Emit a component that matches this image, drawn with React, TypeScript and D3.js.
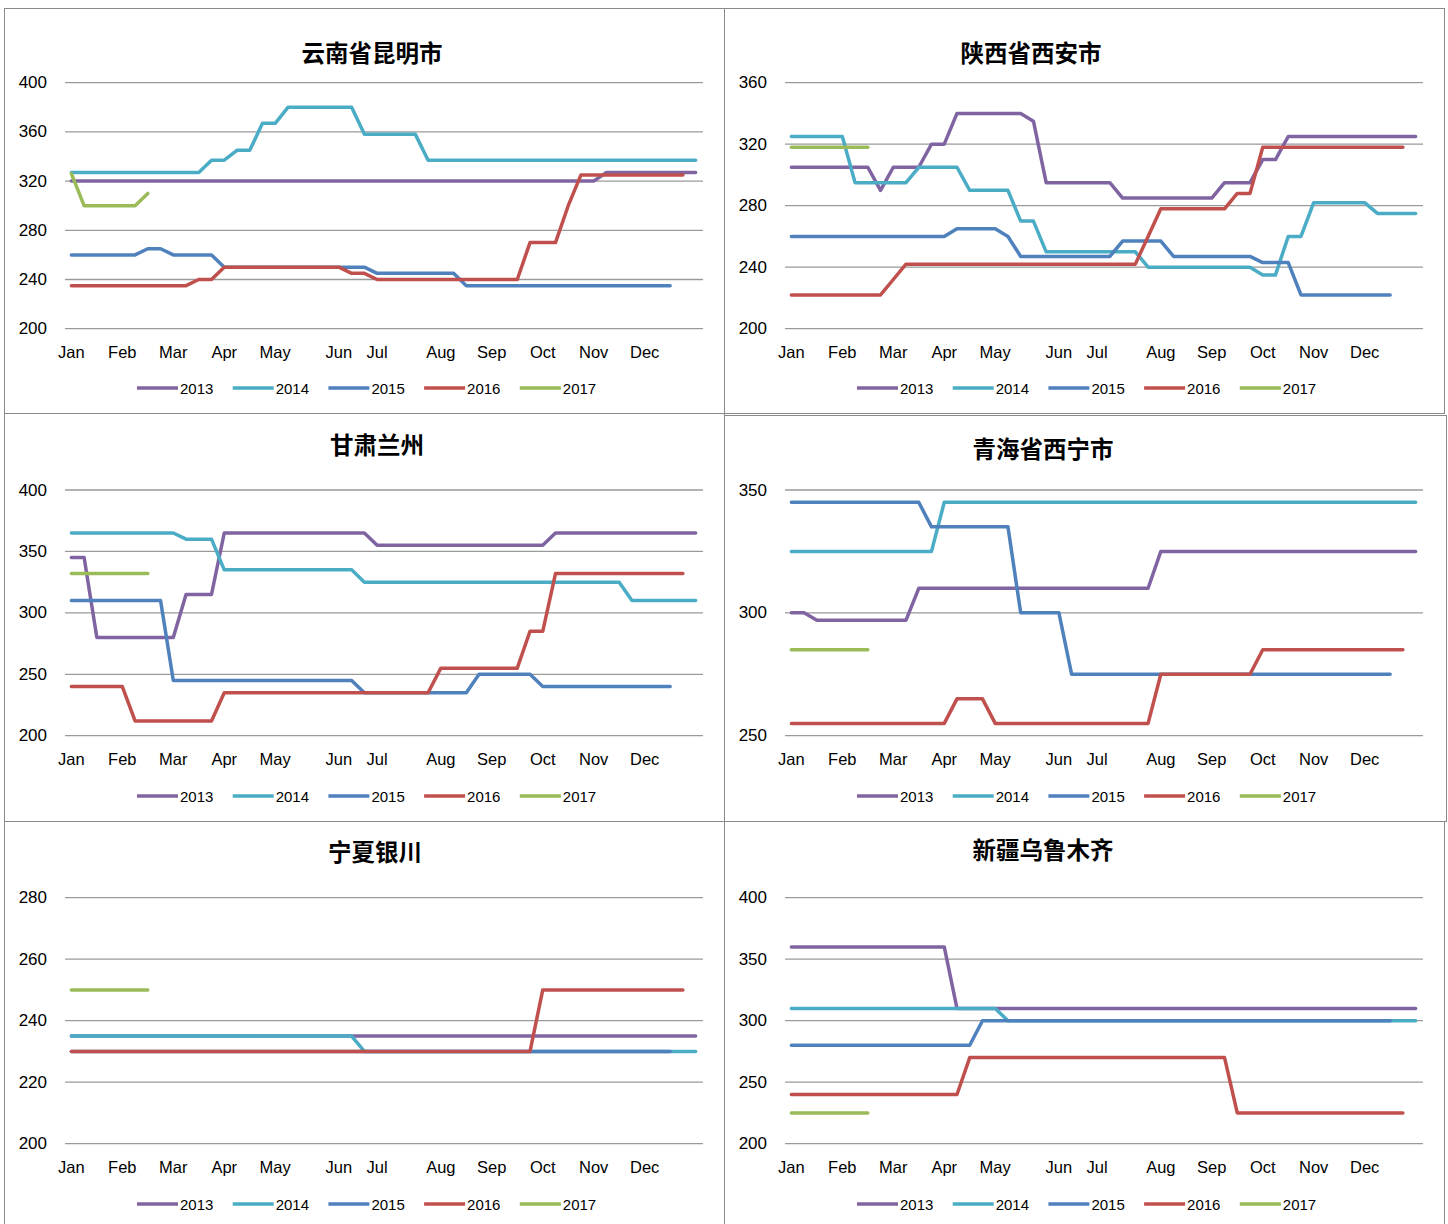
import React from "react";
import * as d3 from "d3";

const years = ["2013", "2014", "2015", "2016", "2017"];
const seriesColors = ["#8064A2", "#4BACC6", "#4F81BD", "#C0504D", "#9BBB59"];
const monthLabels = ["Jan", "Feb", "Mar", "Apr", "May", "Jun", "Jul", "Aug", "Sep", "Oct", "Nov", "Dec"];
const monthIndex = [0, 4, 8, 12, 16, 21, 24, 29, 33, 37, 41, 45];
const nCategories = 50;

// 云南省昆明市
const km2013 = [
  320, 320, 320, 320, 320, 320, 320, 320, 320, 320,
  320, 320, 320, 320, 320, 320, 320, 320, 320, 320,
  320, 320, 320, 320, 320, 320, 320, 320, 320, 320,
  320, 320, 320, 320, 320, 320, 320, 320, 320, 320,
  320, 320, 327, 327, 327, 327, 327, 327, 327, 327];
const km2014 = [
  327, 327, 327, 327, 327, 327, 327, 327, 327, 327,
  327, 337, 337, 345, 345, 367, 367, 380, 380, 380,
  380, 380, 380, 358, 358, 358, 358, 358, 337, 337,
  337, 337, 337, 337, 337, 337, 337, 337, 337, 337,
  337, 337, 337, 337, 337, 337, 337, 337, 337, 337];
const km2015 = [
  260, 260, 260, 260, 260, 260, 265, 265, 260, 260,
  260, 260, 250, 250, 250, 250, 250, 250, 250, 250,
  250, 250, 250, 250, 245, 245, 245, 245, 245, 245,
  245, 235, 235, 235, 235, 235, 235, 235, 235, 235,
  235, 235, 235, 235, 235, 235, 235, 235];
const km2016 = [
  235, 235, 235, 235, 235, 235, 235, 235, 235, 235,
  240, 240, 250, 250, 250, 250, 250, 250, 250, 250,
  250, 250, 245, 245, 240, 240, 240, 240, 240, 240,
  240, 240, 240, 240, 240, 240, 270, 270, 270, 300,
  325, 325, 325, 325, 325, 325, 325, 325, 325];
const km2017 = [326, 300, 300, 300, 300, 300, 310];
const kmTicks = [200, 240, 280, 320, 360, 400];

// 陕西省西安市
const xa2013 = [
  305, 305, 305, 305, 305, 305, 305, 290, 305, 305,
  305, 320, 320, 340, 340, 340, 340, 340, 340, 335,
  295, 295, 295, 295, 295, 295, 285, 285, 285, 285,
  285, 285, 285, 285, 295, 295, 295, 310, 310, 325,
  325, 325, 325, 325, 325, 325, 325, 325, 325, 325];
const xa2014 = [
  325, 325, 325, 325, 325, 295, 295, 295, 295, 295,
  305, 305, 305, 305, 290, 290, 290, 290, 270, 270,
  250, 250, 250, 250, 250, 250, 250, 250, 240, 240,
  240, 240, 240, 240, 240, 240, 240, 235, 235, 260,
  260, 282, 282, 282, 282, 282, 275, 275, 275, 275];
const xa2015 = [
  260, 260, 260, 260, 260, 260, 260, 260, 260, 260,
  260, 260, 260, 265, 265, 265, 265, 260, 247, 247,
  247, 247, 247, 247, 247, 247, 257, 257, 257, 257,
  247, 247, 247, 247, 247, 247, 247, 243, 243, 243,
  222, 222, 222, 222, 222, 222, 222, 222];
const xa2016 = [
  222, 222, 222, 222, 222, 222, 222, 222, 232, 242,
  242, 242, 242, 242, 242, 242, 242, 242, 242, 242,
  242, 242, 242, 242, 242, 242, 242, 242, 260, 278,
  278, 278, 278, 278, 278, 288, 288, 318, 318, 318,
  318, 318, 318, 318, 318, 318, 318, 318, 318];
const xa2017 = [318, 318, 318, 318, 318, 318, 318];
const xaTicks = [200, 240, 280, 320, 360];

// 甘肃兰州
const lz2013 = [
  345, 345, 280, 280, 280, 280, 280, 280, 280, 315,
  315, 315, 365, 365, 365, 365, 365, 365, 365, 365,
  365, 365, 365, 365, 355, 355, 355, 355, 355, 355,
  355, 355, 355, 355, 355, 355, 355, 355, 365, 365,
  365, 365, 365, 365, 365, 365, 365, 365, 365, 365];
const lz2014 = [
  365, 365, 365, 365, 365, 365, 365, 365, 365, 360,
  360, 360, 335, 335, 335, 335, 335, 335, 335, 335,
  335, 335, 335, 325, 325, 325, 325, 325, 325, 325,
  325, 325, 325, 325, 325, 325, 325, 325, 325, 325,
  325, 325, 325, 325, 310, 310, 310, 310, 310, 310];
const lz2015 = [
  310, 310, 310, 310, 310, 310, 310, 310, 245, 245,
  245, 245, 245, 245, 245, 245, 245, 245, 245, 245,
  245, 245, 245, 235, 235, 235, 235, 235, 235, 235,
  235, 235, 250, 250, 250, 250, 250, 240, 240, 240,
  240, 240, 240, 240, 240, 240, 240, 240];
const lz2016 = [
  240, 240, 240, 240, 240, 212, 212, 212, 212, 212,
  212, 212, 235, 235, 235, 235, 235, 235, 235, 235,
  235, 235, 235, 235, 235, 235, 235, 235, 235, 255,
  255, 255, 255, 255, 255, 255, 285, 285, 332, 332,
  332, 332, 332, 332, 332, 332, 332, 332, 332];
const lz2017 = [332, 332, 332, 332, 332, 332, 332];
const lzTicks = [200, 250, 300, 350, 400];

// 青海省西宁市
const xn2013 = [
  300, 300, 297, 297, 297, 297, 297, 297, 297, 297,
  310, 310, 310, 310, 310, 310, 310, 310, 310, 310,
  310, 310, 310, 310, 310, 310, 310, 310, 310, 325,
  325, 325, 325, 325, 325, 325, 325, 325, 325, 325,
  325, 325, 325, 325, 325, 325, 325, 325, 325, 325];
const xn2014 = [
  325, 325, 325, 325, 325, 325, 325, 325, 325, 325,
  325, 325, 345, 345, 345, 345, 345, 345, 345, 345,
  345, 345, 345, 345, 345, 345, 345, 345, 345, 345,
  345, 345, 345, 345, 345, 345, 345, 345, 345, 345,
  345, 345, 345, 345, 345, 345, 345, 345, 345, 345];
const xn2015 = [
  345, 345, 345, 345, 345, 345, 345, 345, 345, 345,
  345, 335, 335, 335, 335, 335, 335, 335, 300, 300,
  300, 300, 275, 275, 275, 275, 275, 275, 275, 275,
  275, 275, 275, 275, 275, 275, 275, 275, 275, 275,
  275, 275, 275, 275, 275, 275, 275, 275];
const xn2016 = [
  255, 255, 255, 255, 255, 255, 255, 255, 255, 255,
  255, 255, 255, 265, 265, 265, 255, 255, 255, 255,
  255, 255, 255, 255, 255, 255, 255, 255, 255, 275,
  275, 275, 275, 275, 275, 275, 275, 285, 285, 285,
  285, 285, 285, 285, 285, 285, 285, 285, 285];
const xn2017 = [285, 285, 285, 285, 285, 285, 285];
const xnTicks = [250, 300, 350];

// 宁夏银川
const yc2013 = [
  235, 235, 235, 235, 235, 235, 235, 235, 235, 235,
  235, 235, 235, 235, 235, 235, 235, 235, 235, 235,
  235, 235, 235, 235, 235, 235, 235, 235, 235, 235,
  235, 235, 235, 235, 235, 235, 235, 235, 235, 235,
  235, 235, 235, 235, 235, 235, 235, 235, 235, 235];
const yc2014 = [
  235, 235, 235, 235, 235, 235, 235, 235, 235, 235,
  235, 235, 235, 235, 235, 235, 235, 235, 235, 235,
  235, 235, 235, 230, 230, 230, 230, 230, 230, 230,
  230, 230, 230, 230, 230, 230, 230, 230, 230, 230,
  230, 230, 230, 230, 230, 230, 230, 230, 230, 230];
const yc2015 = [
  230, 230, 230, 230, 230, 230, 230, 230, 230, 230,
  230, 230, 230, 230, 230, 230, 230, 230, 230, 230,
  230, 230, 230, 230, 230, 230, 230, 230, 230, 230,
  230, 230, 230, 230, 230, 230, 230, 230, 230, 230,
  230, 230, 230, 230, 230, 230, 230, 230];
const yc2016 = [
  230, 230, 230, 230, 230, 230, 230, 230, 230, 230,
  230, 230, 230, 230, 230, 230, 230, 230, 230, 230,
  230, 230, 230, 230, 230, 230, 230, 230, 230, 230,
  230, 230, 230, 230, 230, 230, 230, 250, 250, 250,
  250, 250, 250, 250, 250, 250, 250, 250, 250];
const yc2017 = [250, 250, 250, 250, 250, 250, 250];
const ycTicks = [200, 220, 240, 260, 280];

// 新疆乌鲁木齐
const ur2013 = [
  360, 360, 360, 360, 360, 360, 360, 360, 360, 360,
  360, 360, 360, 310, 310, 310, 310, 310, 310, 310,
  310, 310, 310, 310, 310, 310, 310, 310, 310, 310,
  310, 310, 310, 310, 310, 310, 310, 310, 310, 310,
  310, 310, 310, 310, 310, 310, 310, 310, 310, 310];
const ur2014 = [
  310, 310, 310, 310, 310, 310, 310, 310, 310, 310,
  310, 310, 310, 310, 310, 310, 310, 300, 300, 300,
  300, 300, 300, 300, 300, 300, 300, 300, 300, 300,
  300, 300, 300, 300, 300, 300, 300, 300, 300, 300,
  300, 300, 300, 300, 300, 300, 300, 300, 300, 300];
const ur2015 = [
  280, 280, 280, 280, 280, 280, 280, 280, 280, 280,
  280, 280, 280, 280, 280, 300, 300, 300, 300, 300,
  300, 300, 300, 300, 300, 300, 300, 300, 300, 300,
  300, 300, 300, 300, 300, 300, 300, 300, 300, 300,
  300, 300, 300, 300, 300, 300, 300, 300];
const ur2016 = [
  240, 240, 240, 240, 240, 240, 240, 240, 240, 240,
  240, 240, 240, 240, 270, 270, 270, 270, 270, 270,
  270, 270, 270, 270, 270, 270, 270, 270, 270, 270,
  270, 270, 270, 270, 270, 225, 225, 225, 225, 225,
  225, 225, 225, 225, 225, 225, 225, 225, 225];
const ur2017 = [225, 225, 225, 225, 225, 225, 225];
const urTicks = [200, 250, 300, 350, 400];

const panelTitles = ["云南省昆明市", "陕西省西安市", "甘肃兰州", "青海省西宁市", "宁夏银川", "新疆乌鲁木齐"];
const panelSeries = [
  [km2013, km2014, km2015, km2016, km2017],
  [xa2013, xa2014, xa2015, xa2016, xa2017],
  [lz2013, lz2014, lz2015, lz2016, lz2017],
  [xn2013, xn2014, xn2015, xn2016, xn2017],
  [yc2013, yc2014, yc2015, yc2016, yc2017],
  [ur2013, ur2014, ur2015, ur2016, ur2017],
];
const panelTicks = [kmTicks, xaTicks, lzTicks, xnTicks, ycTicks, urTicks];

// layout (pixel positions of each panel)
const panelLayout = [
  { x0: 4, box: [4, 8, 720, 405], top: 82.7, bottom: 328.7, titleX: 372, titleY: 52, monthY: 352, legendY: 388 },
  { x0: 724, box: [724, 8, 720, 405], top: 82.7, bottom: 328.7, titleX: 1031, titleY: 52, monthY: 352, legendY: 388 },
  { x0: 4, box: [4, 413, 720, 408], top: 490, bottom: 735.7, titleX: 377, titleY: 444, monthY: 759, legendY: 796 },
  { x0: 724, box: [724, 415, 722, 406], top: 490, bottom: 735.7, titleX: 1043, titleY: 448, monthY: 759, legendY: 796 },
  { x0: 4, box: [4, 821, 720, 420], top: 897.7, bottom: 1143.7, titleX: 375, titleY: 851, monthY: 1167, legendY: 1204 },
  { x0: 724, box: [724, 821, 720, 420], top: 897.7, bottom: 1143.7, titleX: 1043, titleY: 849, monthY: 1167, legendY: 1204 },
];

const latin = "'Liberation Sans', Arial, sans-serif";
const cjk = "'Noto Sans CJK SC', sans-serif";

function Panel({ idx }: { idx: number }) {
  const L = panelLayout[idx];
  const ticks = panelTicks[idx];
  const series = panelSeries[idx];
  const x = d3
    .scalePoint<number>()
    .domain(d3.range(nCategories))
    .range([L.x0 + 61, L.x0 + 698])
    .padding(0.5);
  const y = d3
    .scaleLinear()
    .domain([ticks[0], ticks[ticks.length - 1]])
    .range([L.bottom, L.top]);
  const line = d3
    .line<number>()
    .x((_, i) => x(i) as number)
    .y((d) => y(d));
  const [bx, by, bw, bh] = L.box;
  return (
    <g>
      <rect x={bx + 0.5} y={by + 0.5} width={bw} height={bh} fill="none" stroke="#8a8a8a" strokeWidth={1} />
      <text
        x={L.titleX}
        y={L.titleY}
        textAnchor="middle"
        dominantBaseline="central"
        fontFamily={cjk}
        fontWeight={700}
        fontSize={23.5}
        fill="#000"
      >
        {panelTitles[idx]}
      </text>
      {ticks.map((t) => (
        <g key={t}>
          <line x1={L.x0 + 61} x2={L.x0 + 699} y1={y(t)} y2={y(t)} stroke="#9a9a9a" strokeWidth={1.3} />
          <text
            x={L.x0 + 43}
            y={y(t)}
            textAnchor="end"
            dominantBaseline="central"
            fontFamily={latin}
            fontSize={17}
            fill="#000"
          >
            {t}
          </text>
        </g>
      ))}
      {monthLabels.map((m, k) => (
        <text
          key={m}
          x={x(monthIndex[k]) as number}
          y={L.monthY}
          textAnchor="middle"
          dominantBaseline="central"
          fontFamily={latin}
          fontSize={16.5}
          fill="#000"
        >
          {m}
        </text>
      ))}
      {series.map((s, k) => (
        <path
          key={years[k]}
          d={line(s) || ""}
          fill="none"
          stroke={seriesColors[k]}
          strokeWidth={3.5}
          strokeLinejoin="round"
          strokeLinecap="round"
        />
      ))}
      {years.map((yr, k) => {
        const sx = L.x0 + 133 + k * 95.7;
        return (
          <g key={yr}>
            <line x1={sx} x2={sx + 41} y1={L.legendY} y2={L.legendY} stroke={seriesColors[k]} strokeWidth={3.5} />
            <text
              x={sx + 43}
              y={L.legendY}
              dominantBaseline="central"
              fontFamily={latin}
              fontSize={15}
              fill="#000"
            >
              {yr}
            </text>
          </g>
        );
      })}
    </g>
  );
}

export default function App() {
  return (
    <svg
      width={1448}
      height={1224}
      style={{ position: "absolute", left: 0, top: 0, background: "#fff" }}
    >
      <rect x={0} y={0} width={1448} height={1224} fill="#fff" />
      {panelLayout.map((_, i) => (
        <Panel key={i} idx={i} />
      ))}
    </svg>
  );
}
